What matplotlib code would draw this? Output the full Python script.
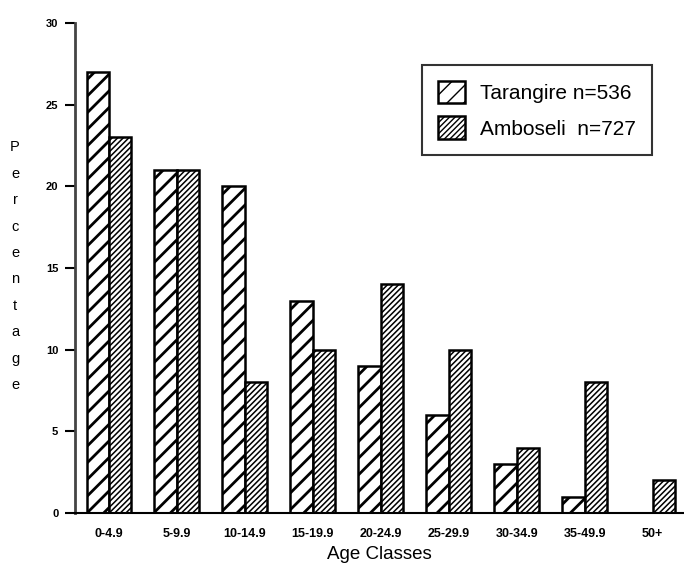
import numpy as np
import matplotlib
matplotlib.use('Agg')
from matplotlib import pyplot as plt

plt.rcParams['font.family'] = ['Liberation Sans', 'DejaVu Sans']

age_classes = ['0-4.9', '5-9.9', '10-14.9', '15-19.9', '20-24.9',
               '25-29.9', '30-34.9', '35-49.9', '50+']
tarangire = [27, 21, 20, 13, 9, 6, 3, 1, 0]
amboseli = [23, 21, 8, 10, 14, 10, 4, 8, 2]
y_ticks = [0, 5, 10, 15, 20, 25, 30]


def hatched_bars(ax, x, values, hatch, hatch_lw, label):
    with plt.rc_context({'hatch.linewidth': hatch_lw, 'hatch.color': 'black'}):
        bars = ax.bar(x, values, width=0.33, align='edge', color='white',
                      edgecolor='black', linewidth=1.8, hatch=hatch, label=label)
        for b in bars:
            if hasattr(b, 'set_hatch_linewidth'):
                b.set_hatch_linewidth(hatch_lw)
    return bars


fig = plt.figure(figsize=(6.84, 5.70), dpi=100)
ax = fig.add_axes([0.1096, 0.1, 0.8904, 0.8596])

x = np.arange(len(age_classes))
hatched_bars(ax, x - 0.33, tarangire, '//', 2.0, 'Tarangire n=536')
hatched_bars(ax, x, amboseli, '//////', 1.1, 'Amboseli  n=727')

ax.set_xlim(-0.5, 8.46)
ax.set_ylim(0, 30)
ax.set_yticks(y_ticks)
ax.set_yticklabels([str(t) for t in y_ticks], fontsize=8, fontweight='bold')
ax.set_xticks(x)
ax.set_xticklabels(age_classes, fontsize=9, fontweight='bold')
ax.tick_params(axis='x', length=0, pad=11)
ax.tick_params(axis='y', direction='out', length=7, width=1.5, pad=5)

for side in ['top', 'right']:
    ax.spines[side].set_visible(False)
ax.spines['left'].set_linewidth(2)
ax.spines['left'].set_color('#444444')
ax.spines['bottom'].set_linewidth(1.5)

ax.set_xlabel('Age Classes', fontsize=13.5, labelpad=4)
fig.text(0.022, 0.533, '\n'.join('Percentage'), fontsize=10.5,
         ha='center', va='center', linespacing=2.13)

leg = ax.legend(loc='upper right', bbox_to_anchor=(0.947, 0.914), fontsize=15,
                frameon=True, fancybox=False, handlelength=1.3,
                handleheight=1.3, handletextpad=0.75, borderpad=0.75,
                labelspacing=0.62, borderaxespad=0)
leg.get_frame().set_edgecolor('black')
leg.get_frame().set_linewidth(1.5)

fig.savefig('out.png', dpi=100)
